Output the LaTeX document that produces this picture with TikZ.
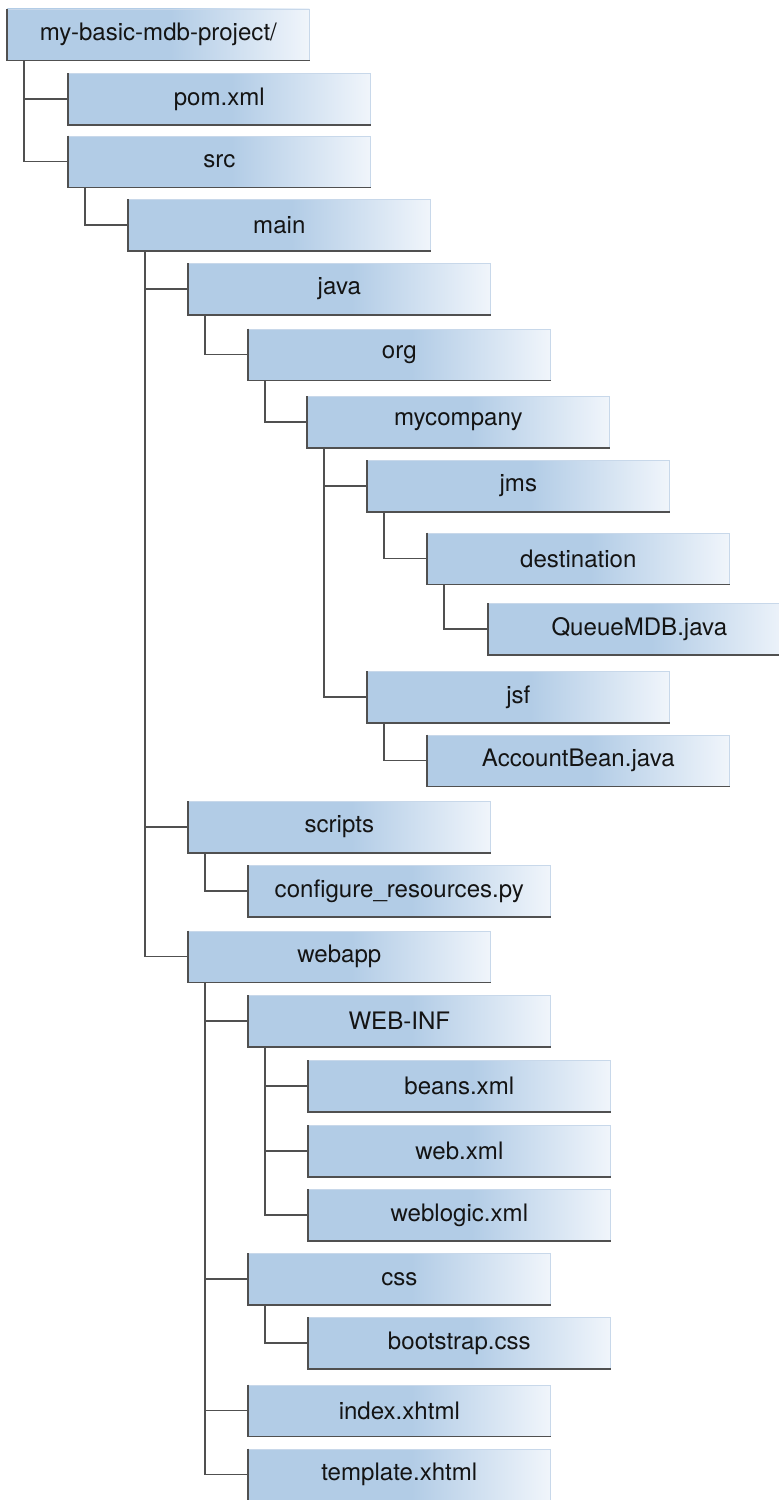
\documentclass[tikz,border=0pt]{standalone}
\usepackage{fontspec}
\setmainfont{TeX Gyre Heros}

\definecolor{boxblue}{RGB}{178,204,230}
\definecolor{boxlight}{RGB}{240,245,251}
\definecolor{boxrim}{RGB}{200,216,234}
\definecolor{linegray}{RGB}{80,80,80}
\definecolor{labelgray}{RGB}{20,20,20}
\pgfdeclarehorizontalshading{foldershade}{100bp}{color(0bp)=(boxblue); color(52bp)=(boxblue); color(75bp)=(boxlight); color(100bp)=(boxlight)}

\begin{document}
\begin{tikzpicture}[x=0.02cm, y=-0.02cm,
                    folder/.style={draw=boxrim, line width=0.4pt, shading=foldershade,
                                   minimum width=6.04cm, minimum height=1.02cm, inner sep=0pt,
                                   anchor=west, text=labelgray, font=\fontsize{13.7}{16}\selectfont},
                    rim/.style={draw=linegray, line width=0.9pt},
                    branch/.style={draw=linegray, line width=1pt}]
	\fill[white] (0, 0) rectangle (778, 1500);
	\useasboundingbox (0, 0) rectangle (778, 1500);

	\node[folder] (root) at (7, 34.5) {my-basic-mdb-project/};
	\node[folder] (pom) at (68, 99) {pom.xml};
	\node[folder] (src) at (68, 161.5) {src};
	\node[folder] (main) at (128, 225) {main};
	\node[folder] (java) at (188, 289) {java};
	\node[folder] (org) at (248, 354.5) {org};
	\node[folder] (mycompany) at (307, 422) {mycompany};
	\node[folder] (jms) at (367, 486) {jms};
	\node[folder] (destination) at (427, 558.5) {destination};
	\node[folder] (queuemdb) at (488, 629) {QueueMDB.java};
	\node[folder] (jsf) at (367, 697) {jsf};
	\node[folder] (accountbean) at (427, 760.5) {AccountBean.java};
	\node[folder] (scripts) at (188, 827) {scripts};
	\node[folder] (configure) at (248, 891) {configure\_resources.py};
	\node[folder] (webapp) at (188, 956.5) {webapp};
	\node[folder] (webinf) at (248, 1021) {WEB-INF};
	\node[folder] (beans) at (308, 1086) {beans.xml};
	\node[folder] (web) at (308, 1151) {web.xml};
	\node[folder] (weblogic) at (308, 1215) {weblogic.xml};
	\node[folder] (css) at (248, 1279) {css};
	\node[folder] (bootstrap) at (308, 1343) {bootstrap.css};
	\node[folder] (index) at (248, 1410.5) {index.xhtml};
	\node[folder] (template) at (248, 1474.5) {template.xhtml};

	% dark left and bottom edges
	\foreach \n in {root, pom, src, main, java, org, mycompany, jms, destination,
	                queuemdb, jsf, accountbean, scripts, configure, webapp, webinf,
	                beans, web, weblogic, css, bootstrap, index, template}
		\draw[rim] (\n.north west) -- (\n.south west) -- (\n.south east);

	\foreach \p/\c in {root/pom, root/src, src/main, main/java, java/org,
	                   org/mycompany, mycompany/jms, jms/destination,
	                   destination/queuemdb, mycompany/jsf, jsf/accountbean,
	                   main/scripts, scripts/configure, main/webapp, webapp/webinf,
	                   webinf/beans, webinf/web, webinf/weblogic, webapp/css,
	                   css/bootstrap, webapp/index, webapp/template}
		\draw[branch] ([xshift=0.34cm]\p.south west) |- (\c.west);

\end{tikzpicture}
\end{document}
